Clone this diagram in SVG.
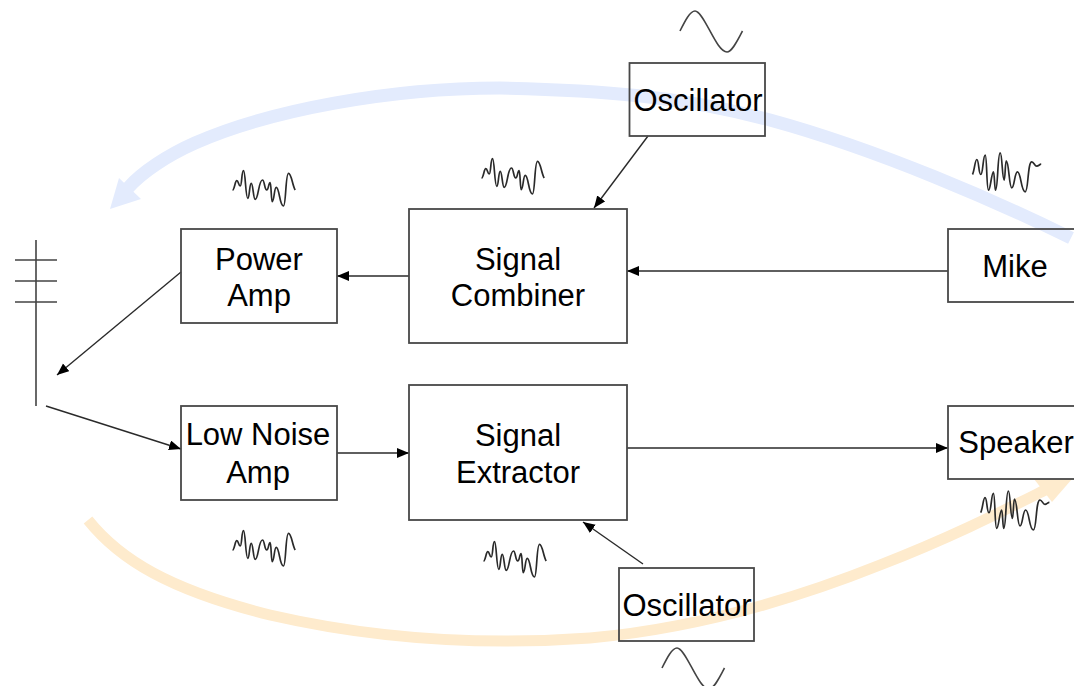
<svg xmlns="http://www.w3.org/2000/svg" width="1074" height="686" viewBox="0 0 1074 686">
<style>
.box{fill:none;stroke:#484848;stroke-width:1.8}
.t{font-family:"Liberation Sans",Arial,sans-serif;font-size:31px;fill:#000;text-anchor:middle}
.c{fill:none;stroke:#2a2a2a;stroke-width:1.4;marker-end:url(#a)}
.w{fill:none;stroke:#2a2a2a;stroke-width:1.7}
.s{fill:none;stroke:#444;stroke-width:1.6}
.ant{fill:none;stroke:#444;stroke-width:1.6}
</style>
<defs>
<marker id="a" markerUnits="userSpaceOnUse" markerWidth="13" markerHeight="11" refX="12" refY="5" orient="auto"><path d="M0 0L12 5L0 10Z" fill="#000"/></marker>
<path id="n1" d="M0 0C2 0 2.500-9.300 4.300-9.300C6-9.300 6-4 7.700-4C9.500-4 9-19.300 11-19.300C13-19.300 13 8.300 15.300 8.300C17 8.300 17-6.700 18.700-6.700C20.700-6.700 20.700 9.300 22.700 9.300C26 9.300 26-10 30-10C32-10 32 0 34.300 0C36 0 36-7.300 37.700-7.300C38.700-7.300 38.700 11.700 39.700 11.700C41.700 11.700 41.700-2.700 43.700-2.700C47-2.700 47 16 51 16C53.500 16 53-16.700 56-16.700C59-16.700 60-4 62.700 0"/>
<path id="n2" d="M0 0C2-4 2.500-15 4.300-15C6.500-15 6 0 8.300 0C10.500 0 10.500-19.300 12.700-19.300C14.500-19.300 14 15.700 16 15.700C18 15.700 19-2.700 21-2.700C22-2.700 22 15.700 23 15.700C25.500 15.700 25-21.700 27.700-21.700C29.700-21.700 29.700 5.700 31.700 5.700C32.700 5.700 32.700-13.700 33.700-13.700C36.500-13.700 36.500 13.300 39.300 13.300C42 13.300 42-2.700 45-2.700C48.500-2.700 48.500 17.300 52.700 17.300C56 17.300 55-12.700 59.300-12.700C61.500-12.700 62-8.300 64.300-8.300C66-8.300 67-10.300 68.700-10.300"/>
<path id="sine" d="M0 20C5 10 10 0 15 0C24 0 36 41 47 41C52 41 57 30 62.500 20"/>
</defs>
<g id="big-arrows">
<path d="M1071 238C1000 203 880 150 770 120C680 96 600 90 500 88C390 88 270 110 195 143C168 155 142 172 128 188" fill="none" stroke="#e3ebfd" stroke-width="13"/>
<path d="M110 209L119 178L141 199Z" fill="#e3ebfd"/>
<path d="M88 520C120 560 170 590 270 615C370 638 480 646 590 638C700 628 800 597 880 565C950 538 1005 510 1045 490" fill="none" stroke="#feebcd" stroke-width="11"/>
<path d="M1072 479L1034 479L1052 502Z" fill="#feebcd"/>
</g>
<g id="connectors">
<path class="c" d="M648 136L594 208"/>
<path class="c" d="M409 276L337 276"/>
<path class="c" d="M948 271L627 271"/>
<path class="c" d="M181 272L57 375"/>
<path class="c" d="M46 406L181 449"/>
<path class="c" d="M337 453L409 453"/>
<path class="c" d="M627 448L948 448"/>
<path class="c" d="M643 564L583 522"/>
</g>
<g id="antenna"><path class="ant" d="M36 240V406M15 260H57M15 281H57M15 302H57"/></g>
<g id="osc-top"><rect class="box" x="629.500" y="63" width="135.500" height="73"/><text class="t" x="698" y="111">Oscillator</text></g>
<g id="signal-combiner"><rect class="box" x="409" y="209" width="218" height="134"/><text class="t" x="518" y="270">Signal</text><text class="t" x="518" y="306">Combiner</text></g>
<g id="power-amp"><rect class="box" x="181" y="229" width="156" height="94"/><text class="t" x="259" y="270">Power</text><text class="t" x="259" y="306">Amp</text></g>
<g id="mike"><rect class="box" x="948" y="229" width="130" height="73"/><text class="t" x="1015" y="277">Mike</text></g>
<g id="low-noise-amp"><rect class="box" x="181" y="406" width="156" height="94"/><text class="t" x="258" y="445">Low Noise</text><text class="t" x="258" y="483">Amp</text></g>
<g id="signal-extractor"><rect class="box" x="409" y="385" width="218" height="135"/><text class="t" x="518" y="446">Signal</text><text class="t" x="518" y="483">Extractor</text></g>
<g id="speaker"><rect class="box" x="948" y="406" width="130" height="73"/><text class="t" x="1016" y="453">Speaker</text></g>
<g id="osc-bottom"><rect class="box" x="619" y="568" width="135" height="73"/><text class="t" x="687" y="616">Oscillator</text></g>
<g id="waves">
<use href="#n1" class="w" x="232.500" y="190"/>
<use href="#n1" class="w" x="481.500" y="178"/>
<use href="#n1" class="w" x="232.500" y="550"/>
<use href="#n1" class="w" x="483.500" y="561"/>
<use href="#n2" class="w" x="972.500" y="174.500"/>
<use href="#n2" class="w" x="980.700" y="512.700"/>
<use href="#sine" class="s" x="680" y="11"/>
<use href="#sine" class="s" x="662" y="648"/>
</g>
</svg>
